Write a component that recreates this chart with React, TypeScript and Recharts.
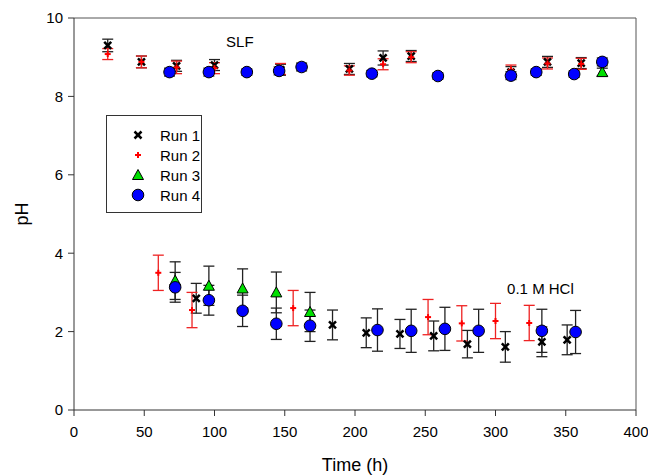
import {
  ErrorBar,
  Legend,
  ReferenceDot,
  ReferenceLine,
  Scatter,
  ScatterChart,
  XAxis,
  YAxis,
} from 'recharts';

const FONT = '"Liberation Sans", Arial, sans-serif';

// Run 1 (black x)
const run1Time = [24, 48, 73, 100, 147, 196, 220, 240, 311, 337, 361, 87, 184, 208, 232, 256, 280, 307, 333, 351];
const run1PH = [9.3, 8.88, 8.78, 8.8, 8.68, 8.7, 8.98, 9.03, 8.62, 8.88, 8.85, 2.85, 2.17, 1.97, 1.94, 1.89, 1.68, 1.61, 1.74, 1.79];
const run1Err = [0.16, 0.15, 0.14, 0.14, 0.14, 0.14, 0.18, 0.14, 0.14, 0.14, 0.14, 0.38, 0.38, 0.38, 0.37, 0.38, 0.35, 0.39, 0.38, 0.38];

// Run 2 (red +)
const run2Time = [24, 48, 73, 100, 147, 196, 220, 240, 311, 337, 361, 60, 84, 156, 252, 276, 300, 324];
const run2PH = [9.08, 8.88, 8.74, 8.72, 8.7, 8.66, 8.82, 9.0, 8.68, 8.84, 8.83, 3.5, 2.55, 2.6, 2.37, 2.21, 2.27, 2.22];
const run2Err = [0.14, 0.15, 0.16, 0.14, 0.14, 0.12, 0.14, 0.14, 0.12, 0.14, 0.14, 0.45, 0.45, 0.45, 0.45, 0.45, 0.45, 0.45];

// Run 3 (green triangle)
const run3Time = [376, 72, 96, 120, 144, 168];
const run3PH = [8.62, 3.3, 3.17, 3.1, 3.0, 2.5];
const run3Err = [0.1, 0.48, 0.5, 0.5, 0.52, 0.5];

// Run 4 (blue circle)
const run4Time = [68, 96, 123, 146, 162, 212, 259, 311, 329, 356, 376, 72, 96, 120, 144, 168, 216, 240, 264, 288, 333, 357];
const run4PH = [8.62, 8.62, 8.62, 8.65, 8.75, 8.58, 8.52, 8.53, 8.62, 8.57, 8.88, 3.13, 2.8, 2.53, 2.2, 2.15, 2.04, 2.02, 2.07, 2.02, 2.02, 1.99];
const run4Err = [0.1, 0.1, 0.08, 0.1, 0.1, 0.08, 0.08, 0.1, 0.08, 0.08, 0.1, 0.38, 0.38, 0.4, 0.4, 0.4, 0.54, 0.55, 0.55, 0.55, 0.55, 0.55];

const xTicks = [0, 50, 100, 150, 200, 250, 300, 350, 400];
const yTicks = [0, 2, 4, 6, 8, 10];

const build = (t: number[], p: number[], e: number[]) => t.map((time, i) => ({ time, ph: p[i], err: e[i] }));

const run1 = build(run1Time, run1PH, run1Err);
const run2 = build(run2Time, run2PH, run2Err);
const run3 = build(run3Time, run3PH, run3Err);
const run4 = build(run4Time, run4PH, run4Err);

const Cross = ({ cx, cy }: any) => (
  <g>
    <line x1={cx - 3.5} y1={cy - 3.5} x2={cx + 3.5} y2={cy + 3.5} stroke="#000" strokeWidth={2.5} />
    <line x1={cx - 3.5} y1={cy + 3.5} x2={cx + 3.5} y2={cy - 3.5} stroke="#000" strokeWidth={2.5} />
  </g>
);

const Plus = ({ cx, cy }: any) => (
  <g>
    <line x1={cx - 3} y1={cy} x2={cx + 3} y2={cy} stroke="#ff0000" strokeWidth={2} />
    <line x1={cx} y1={cy - 3} x2={cx} y2={cy + 3} stroke="#ff0000" strokeWidth={2} />
  </g>
);

const Triangle = ({ cx, cy }: any) => (
  <polygon
    points={`${cx},${cy - 5.5} ${cx + 5.5},${cy + 4.5} ${cx - 5.5},${cy + 4.5}`}
    fill="#00e000"
    stroke="#000"
    strokeWidth={1}
  />
);

const Circle = ({ cx, cy }: any) => <circle cx={cx} cy={cy} r={5.8} fill="#0000ff" stroke="#000" strokeWidth={1} />;

const legendItems = [
  { name: 'Run 1', Shape: Cross },
  { name: 'Run 2', Shape: Plus },
  { name: 'Run 3', Shape: Triangle },
  { name: 'Run 4', Shape: Circle },
];

const LegendBox = () => (
  <div
    style={{
      width: 96,
      height: 98,
      border: '1px solid #333',
      boxSizing: 'border-box',
      paddingTop: 9,
      fontFamily: FONT,
      fontSize: 15,
      background: '#fff',
    }}
  >
    {legendItems.map(({ name, Shape }) => (
      <div key={name} style={{ display: 'flex', alignItems: 'center', height: 20 }}>
        <svg width={52} height={20}>
          <Shape cx={31} cy={10} />
        </svg>
        <span style={{ marginLeft: 1 }}>{name}</span>
      </div>
    ))}
  </div>
);

const tickStyle = { fontFamily: FONT, fontSize: 15, fill: '#000' };

export default function App() {
  return (
    <div style={{ position: 'fixed', left: 0, top: 0, background: '#fff' }}>
      <ScatterChart width={648} height={476} margin={{ top: 18, right: 12, bottom: 0, left: 0 }}>
        <XAxis
          type="number"
          dataKey="time"
          domain={[0, 400]}
          ticks={xTicks}
          tickSize={6}
          tickMargin={10}
          allowDataOverflow
          stroke="#333"
          tick={tickStyle}
          height={66}
          label={{ value: 'Time (h)', position: 'center', dy: 22, style: { fontFamily: FONT, fontSize: 18, fill: '#000' } }}
        />
        <YAxis
          type="number"
          dataKey="ph"
          domain={[0, 10]}
          ticks={yTicks}
          tickSize={6}
          tickMargin={5}
          allowDataOverflow
          stroke="#333"
          tick={tickStyle}
          width={74}
          label={{ value: 'pH', angle: -90, position: 'center', dx: -15, style: { fontFamily: FONT, fontSize: 18, fill: '#000' } }}
        />
        <ReferenceLine y={10} stroke="#555" strokeWidth={1} />
        <ReferenceLine x={400} stroke="#555" strokeWidth={1} />
        <Scatter name="Run 1" data={run1} shape={Cross} isAnimationActive={false}>
          <ErrorBar dataKey="err" direction="y" width={5.5} stroke="#222" strokeWidth={1.3} />
        </Scatter>
        <Scatter name="Run 2" data={run2} shape={Plus} isAnimationActive={false}>
          <ErrorBar dataKey="err" direction="y" width={5.5} stroke="#ee2222" strokeWidth={1.3} />
        </Scatter>
        <Scatter name="Run 3" data={run3} shape={Triangle} isAnimationActive={false}>
          <ErrorBar dataKey="err" direction="y" width={5.5} stroke="#222" strokeWidth={1.3} />
        </Scatter>
        <Scatter name="Run 4" data={run4} shape={Circle} isAnimationActive={false}>
          <ErrorBar dataKey="err" direction="y" width={5.5} stroke="#222" strokeWidth={1.3} />
        </Scatter>
        <ReferenceDot
          x={118}
          y={9.4}
          r={0}
          label={{ value: 'SLF', position: 'center', style: { fontFamily: FONT, fontSize: 15, fill: '#000' } }}
        />
        <ReferenceDot
          x={332}
          y={3.09}
          r={0}
          label={{ value: '0.1 M HCl', position: 'center', style: { fontFamily: FONT, fontSize: 15, fill: '#000' } }}
        />
        <Legend
          layout="vertical"
          align="center"
          verticalAlign="middle"
          content={<LegendBox />}
          wrapperStyle={{ left: 106, top: 115, width: 96 }}
        />
      </ScatterChart>
    </div>
  );
}
